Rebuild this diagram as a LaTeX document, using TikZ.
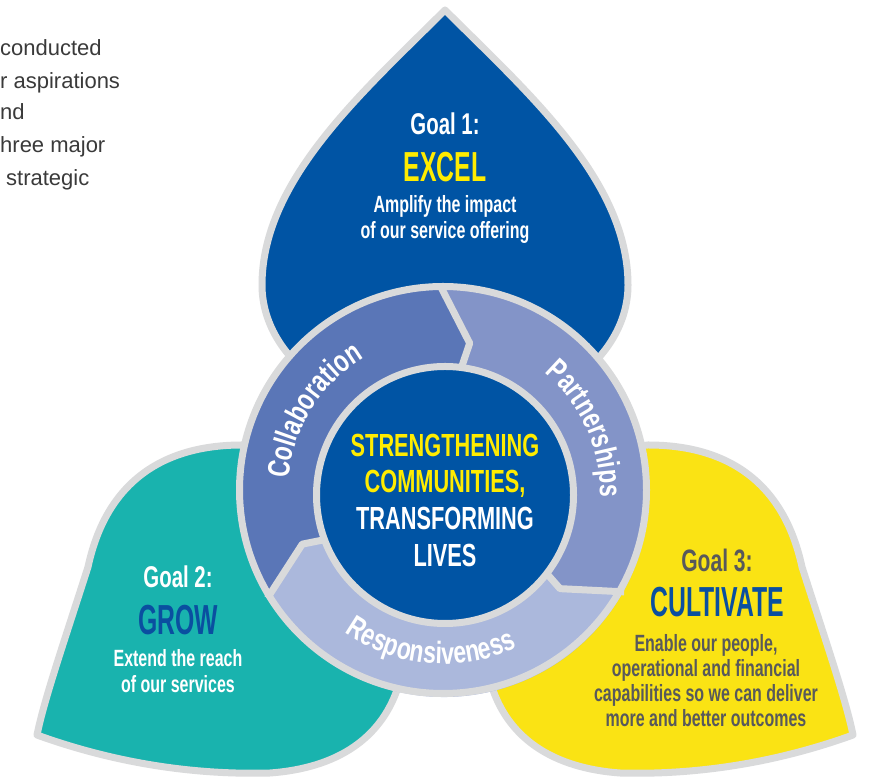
\documentclass[tikz,border=0pt]{standalone}
\usepackage{fontspec}
\usetikzlibrary{decorations.text}
\newfontfamily\bodyf[FakeStretch=0.68]{Liberation Sans}
\newfontfamily\titlef[FakeStretch=0.59]{Liberation Sans}
\newfontfamily\ringf[FakeStretch=0.74]{Liberation Sans}
\newfontfamily\parf{Liberation Sans}
\definecolor{greyb}{HTML}{D9DADB}
\definecolor{dblue}{HTML}{0054A4}
\definecolor{collab}{HTML}{5A76B7}
\definecolor{partn}{HTML}{8394C8}
\definecolor{respo}{HTML}{ABB8DC}
\definecolor{tealc}{HTML}{19B3AE}
\definecolor{yellc}{HTML}{FAE314}
\definecolor{ytext}{HTML}{FFEC00}
\definecolor{gblue}{HTML}{0A4FA0}
\definecolor{gtext}{HTML}{58595B}
\definecolor{ptext}{HTML}{3A3A3A}
\newcommand\setfs[2]{\fontsize{#1}{#2}\selectfont}
\newcommand\ringlabel{\ringf\bfseries\setfs{31}{31}}
\newcommand\petalpath{(330,328) -- (242,338) .. controls (172,338) and (108,309) .. (88,216) .. controls (64,141) and (44,83) .. (37,48) .. controls (120,18) and (200,8) .. (270,10) .. controls (338,15) and (380,45) .. (397,93) -- (420,183) -- cycle}
\tikzset{
  petal/.style={draw=greyb, line width=7pt, line join=round},
  ringline/.style={draw=greyb, line width=7pt, line join=round},
  gtitle/.style={anchor=base, inner sep=0pt, font=\bodyf\bfseries\setfs{30}{30}},
  gname/.style={anchor=base, inner sep=0pt, font=\titlef\bfseries\setfs{42}{42}},
  gdesc/.style={anchor=base, inner sep=0pt, font=\bodyf\bfseries\setfs{23.5}{23.5}},
  ctext/.style={anchor=base, inner sep=0pt, font=\bodyf\bfseries\setfs{32}{32}},
  ptxt/.style={anchor=base west, inner sep=0pt, text=ptext, font=\parf\setfs{22}{22}},
}
\begin{document}
\begin{tikzpicture}[x=1pt, y=1pt]
\useasboundingbox[fill=white] (0,0) rectangle (880,783);

% left paragraph fragment
\node[ptxt] (p1) at (0,727) {conducted};
\node[ptxt] (p2) at (0,694) {r aspirations};
\node[ptxt] (p3) at (0,663) {nd};
\node[ptxt] (p4) at (0,630) {hree major};
\node[ptxt] (p5) at (6,597) {strategic};

% petals
\path[petal, fill=dblue] (445,773) .. controls (363,691) and (262,603) .. (262,498)
  arc[start angle=180, end angle=360, x radius=183, y radius=134]
  .. controls (628,603) and (527,691) .. (445,773) -- cycle;
\path[petal, fill=tealc] \petalpath;
\begin{scope}[shift={(890,0)}, xscale=-1]
\path[petal, fill=yellc] \petalpath;
\end{scope}

% ring
\begin{scope}[shift={(444,291)}]
\fill[collab] (211:205) arc[start angle=211, end angle=91, radius=205] -- (80.2:151) -- (82:128)
  arc[start angle=82, end angle=202, radius=128] -- (200.2:151) -- cycle;
\fill[partn] (91:205) arc[start angle=91, end angle=-29, radius=205] -- (-39.8:151) -- (-38:128)
  arc[start angle=-38, end angle=82, radius=128] -- (80.2:151) -- cycle;
\fill[respo] (331:205) arc[start angle=331, end angle=211, radius=205] -- (200.2:151) -- (202:128)
  arc[start angle=202, end angle=322, radius=128] -- (320.2:151) -- cycle;
\foreach \t in {91,211,331}{
  \path[ringline] (\t:206) -- (\t-10.8:151) -- (\t-9:126);
}
\path[ringline] (-1,2) circle[radius=203.5];
\path[ringline, fill=dblue] (1,-3) circle[radius=128.5];
\path[decorate, decoration={text along path, text={|\ringlabel|Collaboration}, text align=center, text color=white}]
  (198:156) arc[start angle=198, end angle=98, radius=156];
\path[decorate, decoration={text along path, text={|\ringlabel|Partnerships}, text align=center, text color=white}]
  (74:156) arc[start angle=74, end angle=-26, radius=156];
\path[decorate, decoration={text along path, text={|\ringlabel|Responsiveness}, text align=center, text color=white}]
  (215:172) arc[start angle=215, end angle=315, radius=172];
\end{scope}

% centre text
\node[ctext, text=ytext] (c1) at (445,326) {STRENGTHENING};
\node[ctext, text=ytext] (c2) at (445,290) {COMMUNITIES,};
\node[ctext, text=white] (c3) at (445,253) {TRANSFORMING};
\node[ctext, text=white] (c4) at (445,216) {LIVES};

% goal 1
\node[gtitle, text=white] (g1t) at (445,648) {Goal 1:};
\node[gname, text=ytext] (g1n) at (445,601) {EXCEL};
\node[gdesc, text=white] (g1a) at (445,570) {Amplify the impact};
\node[gdesc, text=white] (g1b) at (445,544) {of our service offering};

% goal 2
\node[gtitle, text=white] (g2t) at (178,195) {Goal 2:};
\node[gname, text=gblue] (g2n) at (178,148) {GROW};
\node[gdesc, text=white] (g2a) at (178,116) {Extend the reach};
\node[gdesc, text=white] (g2b) at (178,90) {of our services};

% goal 3
\node[gtitle, text=gtext, font=\bodyf\bfseries\setfs{31}{31}] (g3t) at (717,211) {Goal 3:};
\node[gname, text=gblue] (g3n) at (717,166) {CULTIVATE};
\node[gdesc, text=gtext] (g3a) at (706,131) {Enable our people,};
\node[gdesc, text=gtext] (g3b) at (706,106) {operational and financial};
\node[gdesc, text=gtext] (g3c) at (706,81) {capabilities so we can deliver};
\node[gdesc, text=gtext] (g3d) at (706,56) {more and better outcomes};
\end{tikzpicture}
\end{document}
